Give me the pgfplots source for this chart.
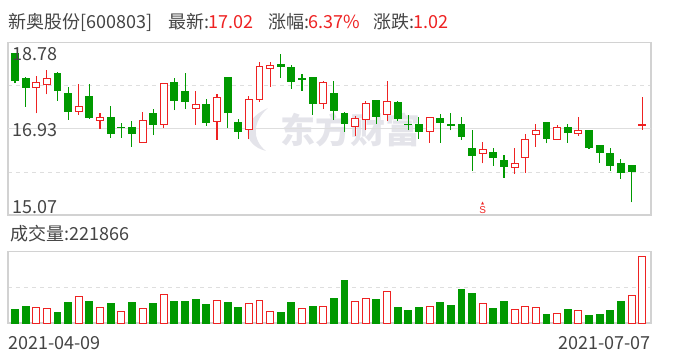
\documentclass[border=0pt]{standalone}
\usepackage{pgfplots}
\pgfplotsset{compat=1.18}
\usepackage{pgfplotstable}
\usepackage{fontspec}
\newfontfamily\cjk{Noto Sans CJK SC}
\newfontfamily\dv{DejaVu Sans}
\definecolor{cg}{RGB}{0,153,0}
\definecolor{cr}{RGB}{238,34,34}
\definecolor{tx}{RGB}{68,68,68}
\definecolor{gridc}{RGB}{222,222,222}
\definecolor{frm}{RGB}{210,210,210}
\definecolor{wm}{RGB}{228,228,234}

\pgfplotstableread{
x o h l c
0 18.54 18.55 17.91 17.96
1 18.00 18.05 17.40 17.81
4 18.11 18.14 17.53 17.75
5 17.69 17.82 17.12 17.29
7 17.63 17.89 17.14 17.16
9 17.17 17.42 16.73 16.82
10 16.96 17.06 16.73 16.95
11 16.96 17.09 16.54 16.82
13 17.26 17.35 16.79 17.01
15 17.93 18.02 17.33 17.53
16 17.72 18.12 17.35 17.51
18 17.46 17.56 16.99 17.06
20 18.02 18.02 16.94 17.27
21 17.07 17.14 16.71 16.86
25 18.30 18.54 18.03 18.26
26 18.24 18.30 17.79 17.94
27 18.00 18.11 17.75 17.99
28 18.02 18.02 17.23 17.47
30 17.68 17.96 17.12 17.32
31 17.25 17.29 16.86 17.04
34 17.53 17.53 17.04 17.19
36 17.50 17.53 17.10 17.14
37 17.02 17.22 16.89 17.01
38 17.01 17.18 16.71 16.86
40 17.14 17.25 16.63 17.06
41 17.01 17.27 16.89 17.00
42 17.01 17.18 16.69 16.76
43 16.51 16.89 16.02 16.36
45 16.41 16.52 16.13 16.30
46 16.25 16.36 15.87 16.11
50 17.07 17.07 16.61 16.71
52 16.96 17.03 16.63 16.84
54 16.90 16.90 16.50 16.52
55 16.57 16.57 16.20 16.41
56 16.40 16.51 16.02 16.13
57 16.18 16.28 15.85 15.98
58 16.14 16.14 15.34 16.00
}\greenK

\pgfplotstableread{
x o h l c
2 17.82 18.06 17.26 17.93
3 17.87 18.19 17.67 18.01
6 17.30 17.89 17.23 17.40
8 17.10 17.26 16.92 17.18
12 16.64 17.29 16.64 17.11
14 17.02 17.91 16.95 17.91
17 17.37 17.74 17.01 17.45
19 17.09 17.67 16.69 17.60
22 16.92 17.63 16.70 17.56
23 17.55 18.36 17.51 18.27
24 18.23 18.36 17.83 18.29
29 17.48 17.96 17.36 17.93
32 16.98 17.20 16.77 17.15
33 17.13 17.53 16.90 17.48
35 17.24 17.96 17.10 17.52
39 16.87 17.17 16.63 17.17
44 16.40 16.64 16.18 16.47
47 16.10 16.52 15.95 16.18
48 16.31 16.81 15.98 16.69
49 16.81 17.03 16.54 16.88
51 16.70 17.00 16.70 16.96
53 16.83 17.18 16.78 16.90
59 17.00 17.61 16.91 17.02
}\redK

\pgfplotstableread{
x v
0 46360
1 56294
4 36425
5 69539
7 72851
9 66228
11 69539
13 66228
15 72851
16 72851
17 79474
18 62917
20 69539
21 52982
25 36425
26 69539
28 56294
30 82785
31 142390
34 79474
36 52982
37 43048
38 52982
40 69539
41 59605
42 112588
43 99342
45 49671
46 72851
50 29803
52 46360
54 26491
55 29803
56 43048
57 72851
}\greenV

\pgfplotstableread{
x v
2 51989
3 48678
6 88414
8 51989
10 38743
12 48678
14 95037
19 75169
22 65235
23 75169
24 38743
27 48678
29 55300
32 71857
33 81792
35 104971
39 55300
44 65235
47 45366
48 55300
49 51989
51 32121
53 42055
58 91726
59 221866
}\redV

\begin{document}
\begin{tikzpicture}[x=1pt,y=1pt]
\path[use as bounding box] (0,0) rectangle (688,360);
% watermark
\fill[wm] (268,252) .. controls (240,240) and (242,215) .. (266,209) .. controls (252,220) and (252,238) .. (268,252);
\node[text=wm, font=\cjk\bfseries\fontsize{35}{35}\selectfont, anchor=center, inner sep=0] at (350,230) {东方财富};

\pgfplotsset{basek/.style={at={(8pt,145pt)}, anchor=south west, width=643pt, height=172.3pt, scale only axis, xmin=-0.658, xmax=59.83, ymin=15.07, ymax=18.78}}

\begin{axis}[basek, xtick=\empty, ytick={15.9975,17.8525}, yticklabels={},
  ymajorgrids, major grid style={gridc, dash pattern=on 4pt off 4pt, line width=0.8pt},
  extra y ticks={16.925}, extra y tick labels={},
  extra y tick style={grid=major, major grid style={gridc, solid, line width=0.8pt}},
  tick style={draw=none}, axis line style={frm, line width=1.2pt}]
\addplot[draw=none, mark=none, error bars/.cd, y dir=plus, y explicit, error mark=none,
  error bar style={draw=cg, solid, line width=1.1pt}] table[x=x, y=l, y error expr=\thisrow{h}-\thisrow{l}] {\greenK};
\addplot[draw=none, mark=none, error bars/.cd, y dir=plus, y explicit, error mark=none,
  error bar style={draw=cr, solid, line width=1.1pt}] table[x=x, y=l, y error expr=\thisrow{h}-\thisrow{l}] {\redK};
\node[text=cr, font=\fontspec{Liberation Sans}\fontsize{10}{10}\selectfont, anchor=south, inner sep=0, yshift=1pt] at (axis cs:44,15.07) {S};
\node[text=cr, font=\dv\fontsize{4}{4}\selectfont, anchor=south, inner sep=0, yshift=9.5pt] at (axis cs:44,15.07) {▲};
\end{axis}

\begin{axis}[basek, hide axis, ybar stacked, bar width=0.65]
\addplot[draw=none, fill=none] table[x=x, y expr={min(\thisrow{o},\thisrow{c})}] {\greenK};
\addplot[fill=cg, draw=cg, line width=1pt] table[x=x, y expr={abs(\thisrow{o}-\thisrow{c})}] {\greenK};
\end{axis}

\begin{axis}[basek, hide axis, ybar stacked, bar width=0.65]
\addplot[draw=none, fill=none] table[x=x, y expr={min(\thisrow{o},\thisrow{c})}] {\redK};
\addplot[fill=white, draw=cr, line width=1pt] table[x=x, y expr={abs(\thisrow{o}-\thisrow{c})}] {\redK};
\end{axis}

% volume
\begin{axis}[at={(8pt,37pt)}, anchor=south west, width=643pt, height=71.3pt, scale only axis,
  xmin=-0.658, xmax=59.83, ymin=0, ymax=236100, xtick=\empty, ytick={118050}, yticklabels={},
  scaled y ticks=false, ymajorgrids, major grid style={gridc, dash pattern=on 4pt off 4pt, line width=0.8pt},
  tick style={draw=none}, axis line style={frm, line width=1.2pt}, ybar, bar width=0.65]
\addplot[fill=cg, draw=cg, line width=1pt, bar shift=0pt] table[x=x,y=v] {\greenV};
\addplot[fill=white, draw=cr, line width=1pt, bar shift=0pt] table[x=x,y=v] {\redV};
\end{axis}

% texts
\begin{scope}[every node/.style={inner sep=0, anchor=base west, font=\cjk\fontsize{18}{18}\selectfont}]
\node[text=tx] at (8,332) {新奥股份[600803]};
\node[text=tx] at (168,332) {最新:};
\node[text=cr] at (208,332) {17.02};
\node[text=tx] at (268,332) {涨幅:};
\node[text=cr] at (308,332) {6.37\%};
\node[text=tx] at (373,332) {涨跌:};
\node[text=cr] at (413,332) {1.02};
\node[text=tx] at (12,299.5) {18.78};
\node[text=tx] at (12,223.3) {16.93};
\node[text=tx] at (12,146.7) {15.07};
\node[text=tx] at (10,120) {成交量:221866};
\node[text=tx] at (8,11) {2021-04-09};
\node[text=tx, anchor=base east] at (651,11) {2021-07-07};
\end{scope}
\end{tikzpicture}
\end{document}
